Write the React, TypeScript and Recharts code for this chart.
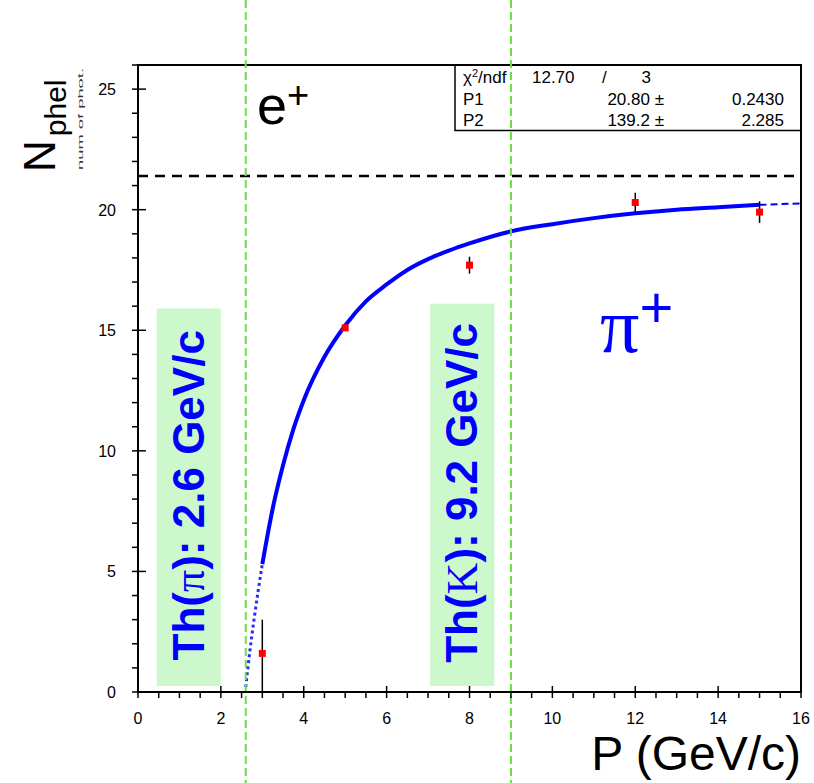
import React from 'react'
import {
  ComposedChart,
  Line,
  Scatter,
  ErrorBar,
  XAxis,
  YAxis,
  Label,
  ReferenceArea,
  ReferenceLine,
  ReferenceDot,
} from 'recharts'

// measured photoelectron yield vs momentum
const pointP = [3, 5, 8, 12, 15]
const pointN = [1.6, 15.1, 17.7, 20.3, 19.9]
const pointErr: [number, number][] = [
  [1.6, 1.4],
  [0.1, 0.1],
  [0.35, 0.35],
  [0.4, 0.4],
  [0.45, 0.45],
]

// fitted curve inside the fit range (3..15 GeV/c)
const fitP = [3, 3.25, 3.5, 3.75, 4, 4.5, 5, 5.5, 6, 6.5, 7, 7.5, 8, 9, 10, 11, 12, 13, 14, 15]
const fitN = [5.3, 7.6, 9.4, 10.9, 12.1, 13.9, 15.2, 16.2, 16.9, 17.5, 17.95, 18.3, 18.6, 19.1, 19.4, 19.65, 19.85, 20.0, 20.1, 20.2]
// the same curve drawn outside the fit range
const lowP = [2.6, 2.7, 2.8, 2.9, 3]
const lowN = [0.2, 1.7, 3.0, 4.2, 5.3]
const highP = [15, 16]
const highN = [20.2, 20.26]

// Cherenkov thresholds and e+ saturation level
const thresholdP = [2.6, 9.0]
const saturationN = 21.4

// threshold annotation bands
const bandFrom = [0.45, 7.05]
const bandTo = [2.0, 8.6]
const bandTop = [15.9, 16.1]
const bandParticle = ['π', 'K']
const bandValue = ['2.6', '9.2']

// fit statistics
const chi2 = '12.70'
const ndf = '3'
const parNames = ['P1', 'P2']
const parValues = ['20.80', '139.2']
const parErrors = ['0.2430', '2.285']

const xTicks = [0, 0.5, 1, 1.5, 2, 2.5, 3, 3.5, 4, 4.5, 5, 5.5, 6, 6.5, 7, 7.5, 8, 8.5, 9, 9.5, 10, 10.5, 11, 11.5, 12, 12.5, 13, 13.5, 14, 14.5, 15, 15.5, 16]
const yTicks = [0, 1, 2, 3, 4, 5, 6, 7, 8, 9, 10, 11, 12, 13, 14, 15, 16, 17, 18, 19, 20, 21, 22, 23, 24, 25, 26]

const pointData = pointP.map((p, i) => ({ p, n: pointN[i], err: pointErr[i] }))
const fitData = fitP.map((p, i) => ({ p, n: fitN[i] }))
const lowData = lowP.map((p, i) => ({ p, n: lowN[i] }))
const highData = highP.map((p, i) => ({ p, n: highN[i] }))

const SANS = '"Liberation Sans", Arial, Helvetica, sans-serif'
const SERIF = '"Liberation Serif", "Times New Roman", serif'
const GREEN = '#66e042'

function XTick({ x, y, payload }: any) {
  const v = payload.value
  const major = v % 2 === 0
  return (
    <g>
      <line x1={x} x2={x} y1={y} y2={y - (major ? 12 : 6)} stroke="#000" strokeWidth={1.5} />
      {major && (
        <text x={x} y={y + 26} textAnchor="middle" fontSize={16} fill="#000" fontFamily={SANS}>
          {v}
        </text>
      )}
    </g>
  )
}

function YTick({ x, y, payload }: any) {
  const v = payload.value
  const major = v % 5 === 0
  return (
    <g>
      <line x1={x} x2={x + (major ? 14 : 7)} y1={y} y2={y} stroke="#000" strokeWidth={1.5} />
      {major && (
        <text x={x - 16} y={y + 6} textAnchor="end" fontSize={16} fill="#000" fontFamily={SANS}>
          {v}
        </text>
      )}
    </g>
  )
}

function bandLabel(i: number) {
  return ({ viewBox }: any) => {
    const { x, y, width, height } = viewBox
    const bx = x + width / 2 + 15
    const cy = y + height / 2 - 2
    return (
      <text
        transform={`rotate(-90 ${bx} ${cy})`}
        x={bx}
        y={cy}
        textAnchor="middle"
        fill="#0000ff"
        fontSize={44}
        fontWeight="bold"
        fontFamily={SANS}
      >
        Th(
        <tspan fontFamily={SERIF} fontWeight="normal">
          {bandParticle[i]}
        </tspan>
        ): {bandValue[i]} GeV/c
      </text>
    )
  }
}

function StatsBox({ viewBox }: any) {
  const { x, y } = viewBox
  return (
    <g fontFamily={SANS} fontSize={17} fill="#000">
      <text x={x + 8} y={y + 18}>
        χ<tspan dy={-6} fontSize={11}>2</tspan>
        <tspan dy={6}>/ndf</tspan>
      </text>
      <text x={x + 77} y={y + 18}>{chi2}</text>
      <text x={x + 147} y={y + 18}>/</text>
      <text x={x + 196} y={y + 18} textAnchor="end">{ndf}</text>
      {parNames.map((name, i) => (
        <g key={name}>
          <text x={x + 8} y={y + 40 + i * 21}>{name}</text>
          <text x={x + 209} y={y + 40 + i * 21} textAnchor="end">
            {parValues[i]} ±
          </text>
          <text x={x + 329} y={y + 40 + i * 21} textAnchor="end">
            {parErrors[i]}
          </text>
        </g>
      ))}
    </g>
  )
}

function YTitle({ viewBox }: any) {
  const bx = viewBox.x - 43
  const by = viewBox.y + 107
  return (
    <g fontFamily={SANS} fill="#000">
      <text transform={`rotate(-90 ${bx} ${by})`} x={bx} y={by} fontSize={44}>
        N
        <tspan dy={11} dx={4} fontSize={30}>
          phel
        </tspan>
      </text>
      <text
        transform={`rotate(-90 ${bx + 28} ${by - 2})`}
        x={bx + 28}
        y={by - 2}
        fontSize={7}
        fill="#333"
        textLength={102}
        lengthAdjust="spacingAndGlyphs"
      >
        num of phot.
      </text>
    </g>
  )
}

function XTitle({ viewBox }: any) {
  return (
    <text
      x={viewBox.x + viewBox.width}
      y={viewBox.y + 78}
      textAnchor="end"
      fontSize={48}
      fontFamily={SANS}
      fill="#000"
    >
      P (GeV/c)
    </text>
  )
}

const Marker = ({ cx, cy }: any) => <rect x={cx - 3.5} y={cy - 3.5} width={7} height={7} fill="#ff0000" />

export default function App() {
  return (
    <div style={{ position: 'absolute', left: 0, top: 0, background: '#fff', fontFamily: SANS }}>
      <ComposedChart width={814} height={783} margin={{ top: 65, right: 13, bottom: 61, left: 98 }}>
        <XAxis
          dataKey="p"
          type="number"
          domain={[0, 16]}
          ticks={xTicks}
          interval={0}
          height={30}
          tickLine={false}
          tickMargin={0}
          tick={(props: any) => <XTick {...props} />}
          axisLine={{ stroke: '#000', strokeWidth: 2 }}
          allowDataOverflow
        >
          <Label content={XTitle} />
        </XAxis>
        <YAxis
          type="number"
          domain={[0, 26]}
          ticks={yTicks}
          interval={0}
          width={40}
          tickLine={false}
          tickMargin={0}
          tick={(props: any) => <YTick {...props} />}
          axisLine={{ stroke: '#000', strokeWidth: 2 }}
          allowDataOverflow
        >
          <Label content={YTitle} />
        </YAxis>

        {bandFrom.map((from, i) => (
          <ReferenceArea
            key={`band-${i}`}
            x1={from}
            x2={bandTo[i]}
            y1={0.25}
            y2={bandTop[i]}
            fill="#ccf8cc"
            fillOpacity={1}
            stroke="none"
            label={{ content: bandLabel(i) }}
          />
        ))}

        <ReferenceArea
          x1={7.65}
          x2={16}
          y1={23.28}
          y2={26}
          fill="#fff"
          fillOpacity={1}
          stroke="#000"
          strokeWidth={1.5}
          label={{ content: StatsBox }}
        />

        <ReferenceLine y={saturationN} stroke="#000" strokeWidth={2.5} strokeDasharray="10 7" />

        <Line
          data={lowData}
          dataKey="n"
          type="monotone"
          stroke="#2a2aff"
          strokeWidth={3}
          strokeDasharray="3 3"
          dot={false}
          isAnimationActive={false}
        />
        <Line
          data={fitData}
          dataKey="n"
          type="monotone"
          stroke="#0000ff"
          strokeWidth={4}
          dot={false}
          isAnimationActive={false}
        />
        <Line
          data={highData}
          dataKey="n"
          type="monotone"
          stroke="#0000ff"
          strokeWidth={2}
          strokeDasharray="7 4"
          dot={false}
          isAnimationActive={false}
        />

        <Scatter data={pointData} dataKey="n" shape={Marker} isAnimationActive={false}>
          <ErrorBar dataKey="err" direction="y" width={0} stroke="#000" strokeWidth={1.5} isAnimationActive={false} />
        </Scatter>

        <ReferenceDot
          x={2.87}
          y={23.55}
          r={0}
          shape={({ cx, cy }: any) => (
            <text x={cx} y={cy} fontSize={54} fontFamily={SANS} fill="#000">
              e
              <tspan dy={-16} fontSize={38}>
                +
              </tspan>
            </text>
          )}
        />
        <ReferenceDot
          x={11.15}
          y={14.1}
          r={0}
          shape={({ cx, cy }: any) => (
            <text x={cx} y={cy} fill="#0000ff">
              <tspan fontSize={78} fontFamily={SERIF}>
                π
              </tspan>
              <tspan dy={-25} fontSize={58} fontFamily={SANS}>
                +
              </tspan>
            </text>
          )}
        />

        {thresholdP.map((p) => (
          <ReferenceLine
            key={`th-${p}`}
            x={p}
            ifOverflow="visible"
            shape={(props: any) => (
              <line
                x1={props.x1}
                x2={props.x2}
                y1={0}
                y2={783}
                stroke={GREEN}
                strokeWidth={2}
                strokeDasharray="8 4"
              />
            )}
          />
        ))}

        <ReferenceArea x1={0} x2={16} y1={0} y2={26} fill="none" stroke="#000" strokeWidth={2} />
      </ComposedChart>
    </div>
  )
}
